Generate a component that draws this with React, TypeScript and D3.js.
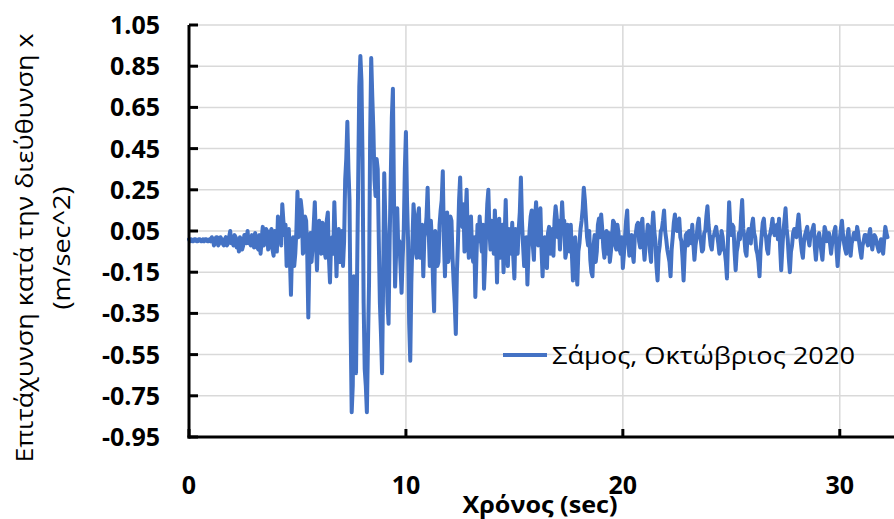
import React from "react";
import * as d3 from "d3";

const DT = 0.1;
// samples at t = i * 0.1 s
const accel: number[] = [
  0.01, 0.01, 0.00, 0.01, 0.00, 0.01, 0.00, 0.00, 0.01, 0.00,
  0.00, 0.01, -0.01, 0.02, -0.01, 0.01, -0.02, 0.02, -0.01, 0.05,
  0.01, 0.03, -0.03, -0.05, 0.00, -0.02, 0.03, 0.05, 0.01, 0.03,
  -0.03, 0.02, -0.04, -0.06, 0.07, 0.00, 0.05, -0.02, 0.06, -0.07,
  0.02, 0.12, 0.06, 0.18, 0.03, -0.12, 0.06, -0.26, 0.02, -0.06,
  0.24, 0.08, 0.15, -0.05, 0.10, -0.37, 0.04, -0.02, 0.19, -0.14,
  0.10, -0.06, 0.08, -0.08, 0.14, -0.20, 0.02, 0.19, -0.17, 0.06,
  -0.06, -0.12, 0.30, 0.58, 0.20, -0.83, -0.17, -0.64, 0.30, 0.90,
  0.40, -0.62, -0.83, -0.20, 0.89, 0.54, 0.22, 0.35, -0.30, -0.64,
  0.33, -0.05, -0.40, 0.30, 0.74, -0.22, 0.16, 0.00, -0.25, 0.05,
  0.53, 0.00, -0.58, 0.00, 0.10, -0.08, 0.16, -0.05, -0.17, 0.05,
  0.26, -0.12, 0.00, -0.34, 0.00, -0.10, 0.15, 0.34, -0.17, 0.14,
  -0.05, 0.10, -0.20, -0.45, 0.00, 0.31, 0.07, -0.05, 0.25, -0.08,
  0.12, -0.10, -0.27, 0.08, 0.12, -0.05, -0.23, 0.05, 0.25, -0.04,
  0.06, 0.15, -0.20, 0.11, -0.02, -0.15, 0.20, -0.12, 0.02, 0.09,
  -0.18, 0.00, 0.06, 0.31, -0.02, -0.12, -0.21, 0.05, 0.15, -0.09,
  0.19, -0.02, 0.16, -0.17, 0.02, -0.13, 0.07, -0.03, -0.07, 0.17,
  0.02, -0.04, 0.19, 0.10, -0.05, 0.01, 0.08, -0.19, 0.02, -0.21,
  -0.01, 0.10, 0.26, 0.11, -0.02, -0.09, -0.17, 0.03, -0.05, 0.11,
  0.13, -0.03, 0.04, -0.06, -0.10, 0.02, 0.09, -0.04, 0.04, -0.06,
  -0.13, 0.02, 0.15, -0.07, 0.03, -0.10, 0.04, 0.09, -0.03, 0.11,
  -0.09, 0.02, 0.07, -0.10, 0.14, 0.00, -0.19, -0.02, 0.06, 0.15,
  0.01, -0.07, -0.17, 0.02, 0.13, 0.05, 0.11, 0.00, -0.19, 0.03,
  -0.02, 0.05, 0.08, -0.09, 0.02, 0.11, 0.00, -0.04, 0.05, 0.17,
  0.03, -0.04, 0.03, 0.07, -0.01, -0.04, 0.02, -0.05, -0.18, 0.19,
  0.03, 0.07, -0.14, -0.02, 0.01, 0.20, 0.02, -0.07, 0.06, -0.01,
  0.11, 0.02, -0.06, -0.17, 0.03, 0.11, 0.02, -0.06, 0.04, 0.11,
  0.03, 0.08, 0.11, -0.14, 0.05, 0.16, 0.01, -0.15, -0.02, 0.06,
  0.02, 0.13, 0.00, -0.08, 0.03, 0.07, -0.02, 0.04, 0.08, -0.09,
  0.02, 0.00, -0.09, 0.07, 0.00, 0.04, -0.06, 0.02, 0.07, -0.12,
  0.01, 0.10, -0.01, -0.06, 0.06, -0.07, 0.01, 0.03, 0.07, -0.01,
  -0.08, 0.00, 0.03, -0.02, 0.06, -0.04, 0.03, -0.01, -0.05, 0.01,
  -0.06, 0.07, 0.02,
];

// samples at t = i * 0.1 + 0.05 s (finer wiggles)
const accelMid: number[] = [
  0.00, 0.00, 0.01, 0.00, 0.01, 0.00, 0.01, 0.01, 0.00, 0.01,
  0.02, -0.02, 0.02, -0.02, 0.02, -0.01, 0.01, -0.02, 0.02, -0.01,
  -0.02, 0.02, 0.01, 0.02, -0.04, 0.03, -0.01, -0.01, -0.02, 0.02,
  0.04, -0.03, 0.03, 0.01, -0.02, 0.06, -0.04, 0.04, -0.04, 0.05,
  -0.05, 0.00, -0.02, 0.10, 0.08, 0.04, -0.08, -0.05, -0.12, 0.05,
  0.02, 0.20, -0.06, 0.12, -0.06, -0.08, -0.10, 0.08, 0.00, 0.06,
  -0.04, 0.09, -0.05, 0.10, -0.08, 0.00, -0.06, 0.02, 0.04, -0.10,
  0.05, 0.00, 0.40, 0.35, -0.40, -0.70, -0.25, -0.15, 0.75, 0.78,
  -0.30, -0.70, -0.50, 0.50, 0.70, 0.30, 0.40, 0.00, -0.45, -0.20,
  0.10, -0.30, 0.00, 0.60, 0.20, -0.05, -0.05, -0.12, -0.08, 0.35,
  0.20, -0.40, -0.20, 0.18, -0.05, 0.12, -0.08, 0.08, 0.02, 0.12,
  0.05, 0.10, -0.20, 0.05, -0.12, 0.08, 0.20, 0.00, 0.05, -0.10,
  0.12, -0.08, -0.30, -0.15, 0.20, 0.10, 0.18, 0.12, 0.02, 0.06,
  -0.05, 0.02, -0.08, 0.00, 0.02, 0.08, -0.10, 0.18, 0.05, 0.10,
  -0.06, 0.02, 0.05, -0.08, 0.08, 0.02, -0.02, 0.06, -0.06, -0.08,
  0.06, -0.06, 0.14, 0.10, -0.12, 0.02, -0.05, 0.12, -0.02, 0.10,
  0.08, 0.06, -0.04, -0.02, -0.10, 0.04, -0.06, 0.06, 0.10, 0.12,
  0.10, 0.06, 0.08, -0.08, 0.08, -0.05, -0.06, -0.02, -0.12, -0.05,
  0.06, 0.16, 0.20, 0.02, 0.05, -0.15, -0.02, -0.10, 0.08, 0.02,
  0.06, -0.08, 0.05, 0.04, -0.05, 0.10, -0.02, 0.08, -0.04, 0.02,
  -0.06, 0.10, 0.00, 0.02, -0.06, 0.02, 0.08, 0.00, 0.07, -0.02,
  -0.02, 0.08, -0.05, 0.06, 0.05, -0.12, -0.06, 0.05, 0.10, 0.05,
  -0.04, -0.10, -0.04, 0.09, 0.06, 0.10, 0.02, -0.08, -0.06, 0.04,
  0.05, -0.01, -0.01, -0.02, 0.08, 0.03, -0.05, 0.04, 0.12, 0.08,
  -0.02, 0.02, 0.05, 0.03, -0.06, 0.05, -0.04, -0.10, 0.02, 0.08,
  0.08, -0.05, -0.05, 0.04, 0.12, 0.06, -0.05, 0.03, 0.00, 0.08,
  0.04, -0.04, -0.10, -0.04, 0.09, 0.04, -0.04, 0.02, 0.07, 0.05,
  0.07, 0.01, -0.03, -0.04, 0.10, 0.06, -0.08, -0.05, 0.04, 0.03,
  0.08, 0.06, -0.05, 0.00, 0.05, 0.01, 0.03, 0.06, -0.03, -0.02,
  0.04, -0.05, -0.01, 0.05, 0.02, -0.01, -0.01, 0.05, -0.04, -0.04,
  0.06, 0.03, -0.04, 0.02, -0.02, -0.01, 0.04, 0.01, 0.04, -0.05,
  -0.02, 0.03, 0.00, 0.03, 0.00, 0.00, 0.02, -0.03, -0.01, -0.03,
  0.01, 0.04,
];

const yTicks: number[] = [-0.95, -0.75, -0.55, -0.35, -0.15, 0.05, 0.25, 0.45, 0.65, 0.85, 1.05];
const xTicks: number[] = [0, 10, 20, 30];
const seriesName = "Σάμος, Οκτώβριος 2020";
const yTitle1 = "Επιτάχυνση κατά την διεύθυνση x";
const yTitle2 = "(m/sec^2)";
const xTitle = "Χρόνος (sec)";

const W = 894;
const H = 519;
const L = 189;
const R = 894;
const T = 25;
const B = 437;
const FONT = "'Open Sans', 'DejaVu Sans', sans-serif";

export default function App() {
  const x = d3.scaleLinear().domain([0, 32.5]).range([L, R]);
  const y = d3.scaleLinear().domain([-0.95, 1.05]).range([B, T]);
  const pts: [number, number][] = [];
  accel.forEach((v, i) => {
    pts.push([i * DT, v]);
    if (i < accelMid.length) pts.push([i * DT + DT / 2, accelMid[i]]);
  });
  const line = d3
    .line<[number, number]>()
    .x((d) => x(d[0]))
    .y((d) => y(d[1]))
    .curve(d3.curveLinear);

  const yc = 248;

  return (
    <svg
      width={W}
      height={H}
      style={{ position: "absolute", left: 0, top: 0, background: "#fff" }}
      fontFamily={FONT}
    >
      <rect x={0} y={0} width={W} height={H} fill="#fff" />
      {yTicks.slice(1).map((t) => (
        <line key={"gy" + t} x1={L} x2={R} y1={y(t)} y2={y(t)} stroke="#d9d9d9" strokeWidth={1.5} />
      ))}
      {xTicks.slice(1).map((t) => (
        <line key={"gx" + t} x1={x(t)} x2={x(t)} y1={T} y2={B} stroke="#d9d9d9" strokeWidth={1.5} />
      ))}
      <path d={line(pts) || ""} fill="none" stroke="#4472C4" strokeWidth={4} strokeLinejoin="round" strokeLinecap="round" />
      <line x1={L} x2={L} y1={T} y2={B + 1.5} stroke="#000" strokeWidth={3} />
      <line x1={L - 1.5} x2={R} y1={B} y2={B} stroke="#000" strokeWidth={3} />
      {yTicks.map((t) => (
        <line key={"ty" + t} x1={L} x2={L + 9} y1={y(t)} y2={y(t)} stroke="#000" strokeWidth={3} />
      ))}
      {xTicks.map((t) => (
        <line key={"tx" + t} x1={x(t)} x2={x(t)} y1={B} y2={B - 8} stroke="#000" strokeWidth={3} />
      ))}
      {yTicks.map((t) => (
        <text
          key={"ly" + t}
          x={160}
          y={y(t)}
          dy="0.36em"
          textAnchor="end"
          fontSize={25}
          fontWeight="bold"
          fill="#000"
        >
          {t.toFixed(2)}
        </text>
      ))}
      {xTicks.map((t) => (
        <text key={"lx" + t} x={x(t)} y={494} textAnchor="middle" fontSize={25} fontWeight="bold" fill="#000">
          {t}
        </text>
      ))}
      <text
        transform={`translate(33, ${yc}) rotate(-90)`}
        textAnchor="middle"
        fontSize={23}
        textLength={429}
        lengthAdjust="spacingAndGlyphs"
        fill="#000"
      >
        {yTitle1}
      </text>
      <text
        transform={`translate(70, ${yc}) rotate(-90)`}
        textAnchor="middle"
        fontSize={23}
        textLength={123}
        lengthAdjust="spacingAndGlyphs"
        fill="#000"
      >
        {yTitle2}
      </text>
      <text
        x={540}
        y={513}
        textAnchor="middle"
        fontSize={23}
        fontWeight="bold"
        textLength={155}
        lengthAdjust="spacingAndGlyphs"
        fill="#000"
      >
        {xTitle}
      </text>
      <line x1={503} x2={547} y1={355} y2={355} stroke="#4472C4" strokeWidth={4} />
      <text
        x={552}
        y={355}
        dy="0.36em"
        fontSize={24}
        textLength={303}
        lengthAdjust="spacingAndGlyphs"
        fill="#000"
      >
        {seriesName}
      </text>
    </svg>
  );
}
